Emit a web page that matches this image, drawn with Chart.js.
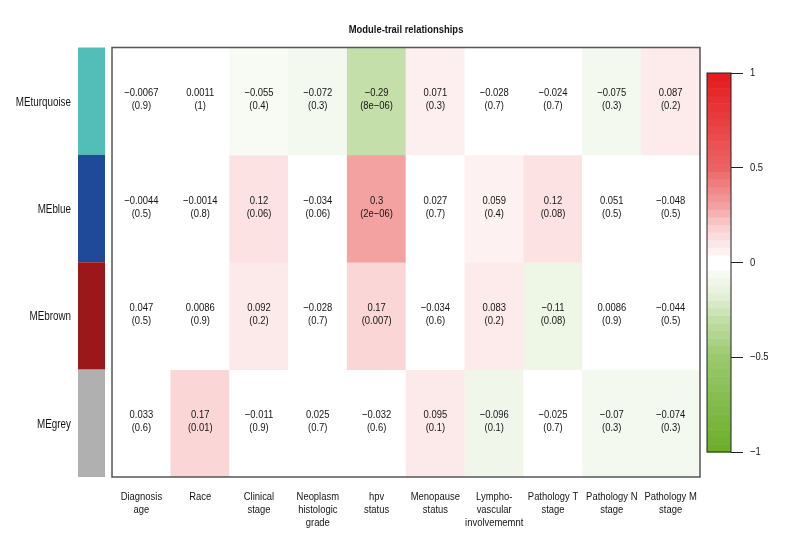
<!DOCTYPE html>
<html>
<head>
<meta charset="utf-8">
<script src="https://cdn.jsdelivr.net/npm/chart.js@4.4.1/dist/chart.umd.min.js"></script>
<style>
  html, body { margin: 0; padding: 0; background: #fff; }
  #wrap { position: relative; width: 792px; height: 552px; }
  #wrap canvas { position: absolute; left: 0; top: 0; }
</style>
</head>
<body>
<div id="wrap">
  <canvas id="heat" width="792" height="552"></canvas>
  <canvas id="scale" width="792" height="552"></canvas>
</div>
<script>
// trait columns (multi-line labels)
const traits = [
  ['Diagnosis', 'age'], ['Race'], ['Clinical', 'stage'], ['Neoplasm', 'histologic', 'grade'],
  ['hpv', 'status'], ['Menopause', 'status'], ['Lympho-', 'vascular', 'involvememnt'],
  ['Pathology T', 'stage'], ['Pathology N', 'stage'], ['Pathology M', 'stage']
];
const modules = ['MEturquoise', 'MEblue', 'MEbrown', 'MEgrey'];
const moduleColors = ['#53beb7', '#1f4a9a', '#9b1719', '#b0b0b0'];

// correlations and p-values, one array per module
const corTurquoise = [-0.0067, 0.0011, -0.055, -0.072, -0.29, 0.071, -0.028, -0.024, -0.075, 0.087];
const pTurquoise = ['0.9', '1', '0.4', '0.3', '8e\u221206', '0.3', '0.7', '0.7', '0.3', '0.2'];
const corBlue = [-0.0044, -0.0014, 0.12, -0.034, 0.3, 0.027, 0.059, 0.12, 0.051, -0.048];
const pBlue = ['0.5', '0.8', '0.06', '0.06', '2e\u221206', '0.7', '0.4', '0.08', '0.5', '0.5'];
const corBrown = [0.047, 0.0086, 0.092, -0.028, 0.17, -0.034, 0.083, -0.11, 0.0086, -0.044];
const pBrown = ['0.5', '0.9', '0.2', '0.7', '0.007', '0.6', '0.2', '0.08', '0.9', '0.5'];
const corGrey = [0.033, 0.17, -0.011, 0.025, -0.032, 0.095, -0.096, -0.025, -0.07, -0.074];
const pGrey = ['0.6', '0.01', '0.9', '0.7', '0.6', '0.1', '0.1', '0.7', '0.3', '0.3'];

const corRows = [corTurquoise, corBlue, corBrown, corGrey];
const pRows = [pTurquoise, pBlue, pBrown, pGrey];

const colorbarTicks = [-1, -0.5, 0, 0.5, 1];

const FONT = "'Liberation Sans', Arial, sans-serif";
const NARROW = 0.82; // squeeze text horizontally, the original uses a condensed face
const TEXT = '#151515';

const RED = [228, 26, 28];
const GREEN = [106, 174, 40];
// how far toward the end colour a |correlation| goes
const rampIn = [0, 0.055, 0.12, 0.17, 0.3, 0.5, 1];
const rampOut = [0, 0.055, 0.125, 0.18, 0.41, 0.68, 1];

function ramp(t) {
  if (t < 0.055) return 0;
  for (let i = 1; i < rampIn.length; i++) {
    if (t <= rampIn[i]) {
      const f = (t - rampIn[i - 1]) / (rampIn[i] - rampIn[i - 1]);
      return rampOut[i - 1] + f * (rampOut[i] - rampOut[i - 1]);
    }
  }
  return 1;
}

function cellColor(v) {
  const end = v >= 0 ? RED : GREEN;
  const t = ramp(Math.min(1, Math.abs(v)));
  const c = end.map(e => Math.round(255 + (e - 255) * t));
  return `rgb(${c[0]},${c[1]},${c[2]})`;
}

function fmt(v) {
  return String(v).replace('-', '\u2212');
}

function narrowText(ctx, s, x, y, align) {
  ctx.save();
  ctx.translate(x, y);
  ctx.scale(NARROW, 1);
  ctx.textAlign = align;
  ctx.fillText(s, 0, 0);
  ctx.restore();
}

// module strip, labels, cell text and frame
const heatPlugin = {
  id: 'heatExtras',
  afterDatasetsDraw(chart) {
    const { ctx, chartArea, scales } = chart;
    const x = scales.x;
    const y = scales.y;
    ctx.save();
    modules.forEach((m, r) => {
      const y0 = y.getPixelForValue(r);
      const y1 = y.getPixelForValue(r + 1);
      ctx.fillStyle = moduleColors[r];
      ctx.fillRect(chartArea.left - 34, y0, 27, y1 - y0);
    });

    ctx.fillStyle = TEXT;
    ctx.textBaseline = 'middle';

    // title
    ctx.font = `bold 11.5px ${FONT}`;
    narrowText(ctx, 'Module-trail relationships', (chartArea.left + chartArea.right) / 2, 30, 'center');

    // row labels
    ctx.font = `12px ${FONT}`;
    modules.forEach((m, r) => {
      narrowText(ctx, m, chartArea.left - 41, y.getPixelForValue(r + 0.5) + 1, 'right');
    });

    // column labels
    ctx.font = `11.5px ${FONT}`;
    traits.forEach((lines, j) => {
      const px = x.getPixelForTick(j);
      lines.forEach((line, k) => {
        narrowText(ctx, line, px, chartArea.bottom + 19.5 + 13 * k, 'center');
      });
    });

    // cell values
    ctx.font = `11.5px ${FONT}`;
    chart.data.datasets.forEach((ds, r) => {
      chart.getDatasetMeta(r).data.forEach((bar, j) => {
        const cy = (bar.y + bar.base) / 2;
        narrowText(ctx, fmt(corRows[r][j]), bar.x, cy - 8, 'center');
        narrowText(ctx, '(' + pRows[r][j] + ')', bar.x, cy + 5, 'center');
      });
    });

    ctx.strokeStyle = '#555';
    ctx.lineWidth = 1.5;
    ctx.strokeRect(chartArea.left, chartArea.top, chartArea.right - chartArea.left, chartArea.bottom - chartArea.top);
    ctx.restore();
  }
};

new Chart(document.getElementById('heat'), {
  type: 'bar',
  data: {
    labels: traits,
    datasets: modules.map((name, r) => ({
      label: name,
      data: corRows[r].map(() => [r, r + 1]),
      backgroundColor: corRows[r].map(cellColor),
      borderWidth: 0,
      barPercentage: 1,
      categoryPercentage: 1,
      grouped: false
    }))
  },
  options: {
    responsive: false,
    animation: false,
    layout: { padding: { left: 0, right: 92, top: 47.5, bottom: 0 } },
    plugins: {
      legend: { display: false },
      tooltip: { enabled: false }
    },
    scales: {
      x: {
        grid: { display: false, drawTicks: false },
        border: { display: false },
        ticks: { display: false },
        afterFit: s => { s.height = 75; }
      },
      y: {
        type: 'linear',
        min: 0,
        max: 4,
        reverse: true,
        grid: { display: false, drawTicks: false },
        border: { display: false },
        ticks: { display: false },
        afterFit: s => { s.width = 112; }
      }
    }
  },
  plugins: [heatPlugin]
});

// colour key
const keyPlugin = {
  id: 'colorKey',
  beforeDatasetsDraw(chart) {
    const { ctx, chartArea, scales } = chart;
    const y = scales.y;
    const n = 50;
    const w = chartArea.right - chartArea.left;
    ctx.save();
    for (let k = 0; k < n; k++) {
      const lo = -1 + (2 * k) / n;
      const hi = -1 + (2 * (k + 1)) / n;
      const yTop = y.getPixelForValue(hi);
      const yBot = y.getPixelForValue(lo);
      ctx.fillStyle = cellColor((lo + hi) / 2);
      ctx.fillRect(chartArea.left, yTop, w, yBot - yTop + 0.5);
    }
    ctx.strokeStyle = '#222';
    ctx.lineWidth = 1;
    ctx.strokeRect(chartArea.left, chartArea.top, w, chartArea.bottom - chartArea.top);

    ctx.fillStyle = TEXT;
    ctx.font = `11.5px ${FONT}`;
    ctx.textBaseline = 'middle';
    colorbarTicks.forEach(v => {
      narrowText(ctx, fmt(v), chartArea.right + 19, y.getPixelForValue(v), 'left');
    });
    ctx.restore();
  }
};

new Chart(document.getElementById('scale'), {
  type: 'scatter',
  data: { datasets: [] },
  options: {
    responsive: false,
    animation: false,
    layout: { padding: { left: 707, right: 0, top: 73, bottom: 100 } },
    plugins: { legend: { display: false }, tooltip: { enabled: false } },
    scales: {
      x: { display: false, min: 0, max: 1 },
      y: {
        position: 'right',
        min: -1,
        max: 1,
        afterBuildTicks: s => { s.ticks = colorbarTicks.map(v => ({ value: v })); },
        grid: { drawOnChartArea: false, drawTicks: true, tickLength: 12, color: '#222', lineWidth: 1 },
        border: { display: false },
        ticks: { display: false },
        afterFit: s => { s.width = 61; }
      }
    }
  },
  plugins: [keyPlugin]
});
</script>
</body>
</html>
